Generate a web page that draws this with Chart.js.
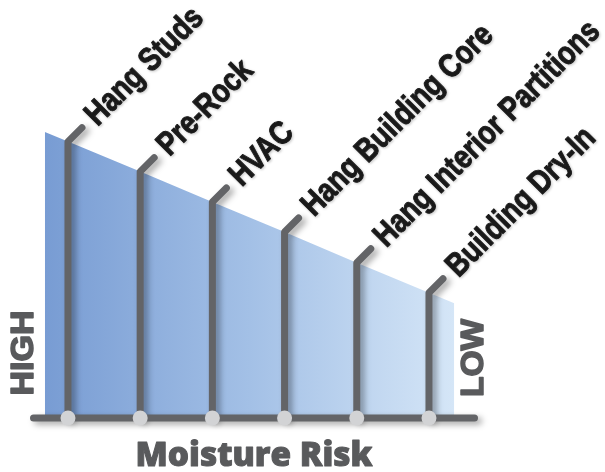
<!DOCTYPE html>
<html>
<head>
<meta charset="utf-8">
<script src="https://cdn.jsdelivr.net/npm/chart.js@4"></script>
<style>html,body{margin:0;background:#fff;}</style>
</head>
<body>
<canvas id="riskChart" width="605" height="472"></canvas>
<script>
// construction stages, left to right
var stages = ["Hang Studs", "Pre-Rock", "HVAC", "Hang Building Core", "Hang Interior Partitions", "Building Dry-In"];
var stageX = [1, 2, 3, 4, 5, 6];
// moisture risk at each post (top of the post)
var stageRisk = [69.1, 61.6, 54.0, 46.5, 38.8, 31.3];
// ends of the shaded band
var bandX = [0.68, 6.35];
var bandRisk = [71.5, 28.7];

var ctx = document.getElementById("riskChart").getContext("2d");

// band points: start, every post, end
var bandPoints = [{x: bandX[0], y: bandRisk[0]}];
for (var i = 0; i < stages.length; i++) {
    bandPoints.push({x: stageX[i], y: stageRisk[i]});
}
bandPoints.push({x: bandX[1], y: bandRisk[1]});

//draws heavy text squeezed/stretched to a given width
function fitText(c, text, width) {
    var w = c.measureText(text).width;
    c.save();
    c.scale(width / w, 1);
    c.fillText(text, 0, 0);
    c.strokeText(text, 0, 0);
    c.restore();
}

//posts, axis line, dots and texts
var postsPlugin = {
    id: 'posts',
    afterDatasetsDraw: function (chart) {
        var c = chart.ctx;
        var xs = chart.scales.x;
        var ys = chart.scales.y;
        var area = chart.chartArea;
        var base = ys.getPixelForValue(0);
        c.save();
        c.strokeStyle = "#636467";
        c.lineWidth = 7;
        c.lineCap = "round";
        c.lineJoin = "round";
        c.shadowColor = "rgba(0,0,0,0.35)";
        c.shadowBlur = 6;
        c.shadowOffsetX = 4;
        c.shadowOffsetY = 3;
        for (var i = 0; i < stages.length; i++) {
            var px = xs.getPixelForValue(stageX[i]);
            var top = ys.getPixelForValue(stageRisk[i]);
            c.beginPath();
            c.moveTo(px, base);
            c.lineTo(px, top);
            c.lineTo(px + 14, top - 14);
            c.stroke();
        }
        c.beginPath();
        c.moveTo(area.left + 3.5, base);
        c.lineTo(area.right - 3.5, base);
        c.stroke();
        c.restore();

        //dots on the axis
        c.save();
        c.fillStyle = "#d2d3d5";
        for (var i = 0; i < stages.length; i++) {
            c.beginPath();
            c.arc(xs.getPixelForValue(stageX[i]), base, 7.5, 0, Math.PI * 2);
            c.fill();
        }
        c.restore();

        //stage labels
        c.save();
        c.fillStyle = "#1b1b1b";
        c.strokeStyle = "#1b1b1b";
        c.lineWidth = 1;
        c.lineJoin = "round";
        c.font = 'bold 33px "Liberation Sans", Arial, sans-serif';
        c.textAlign = "left";
        c.textBaseline = "middle";
        c.shadowColor = "rgba(0,0,0,0.2)";
        c.shadowBlur = 3;
        c.shadowOffsetX = 1;
        c.shadowOffsetY = 1;
        for (var i = 0; i < stages.length; i++) {
            var px = xs.getPixelForValue(stageX[i]);
            var top = ys.getPixelForValue(stageRisk[i]);
            c.save();
            c.translate(px + 14 + 9, top - 14 - 7);
            c.rotate(-Math.PI / 4);
            c.scale(0.83, 1);
            c.fillText(stages[i], 0, 0);
            c.strokeText(stages[i], 0, 0);
            c.restore();
        }
        c.restore();

        //HIGH / LOW / Moisture Risk
        c.save();
        c.fillStyle = "#595a5c";
        c.strokeStyle = "#595a5c";
        c.lineWidth = 1.5;
        c.lineJoin = "round";
        c.font = 'bold 32px "Liberation Sans", sans-serif';
        c.textAlign = "center";
        c.textBaseline = "middle";
        c.save();
        c.translate(24, 353);
        c.rotate(-Math.PI / 2);
        fitText(c, "HIGH", 85);
        c.restore();
        c.save();
        c.translate(474, 358);
        c.rotate(-Math.PI / 2);
        fitText(c, "LOW", 78);
        c.restore();
        c.lineWidth = 1;
        c.font = '800 34px "Open Sans", "Liberation Sans", sans-serif';
        c.translate(254, 456);
        fitText(c, "Moisture Risk", 237);
        c.restore();
    }
};

new Chart(ctx, {
    type: 'line',
    data: {
        datasets: [
            {
                data: bandPoints,
                fill: 'origin',
                borderWidth: 0,
                pointRadius: 0,
                tension: 0,
                backgroundColor: function (context) {
                    var chart = context.chart;
                    if (!chart.chartArea) {
                        return "#a4c1e7";
                    }
                    var x0 = chart.scales.x.getPixelForValue(bandX[0]);
                    var x1 = chart.scales.x.getPixelForValue(bandX[1]);
                    var g = chart.ctx.createLinearGradient(x0, 0, x1, 0);
                    g.addColorStop(0, "#789cd3");
                    g.addColorStop(0.5, "#a3c0e6");
                    g.addColorStop(1, "#d5e6f7");
                    return g;
                }
            }]
    },
    options: {
        responsive: false,
        animation: false,
        layout: {
            padding: {left: 30, right: 127, top: 18, bottom: 54}
        },
        plugins: {
            legend: {display: false},
            tooltip: {enabled: false}
        },
        scales: {
            x: {type: 'linear', min: 0.474, max: 6.679, display: false},
            y: {min: 0, max: 100, display: false}
        }
    },
    plugins: [postsPlugin]
});
</script>
</body>
</html>
